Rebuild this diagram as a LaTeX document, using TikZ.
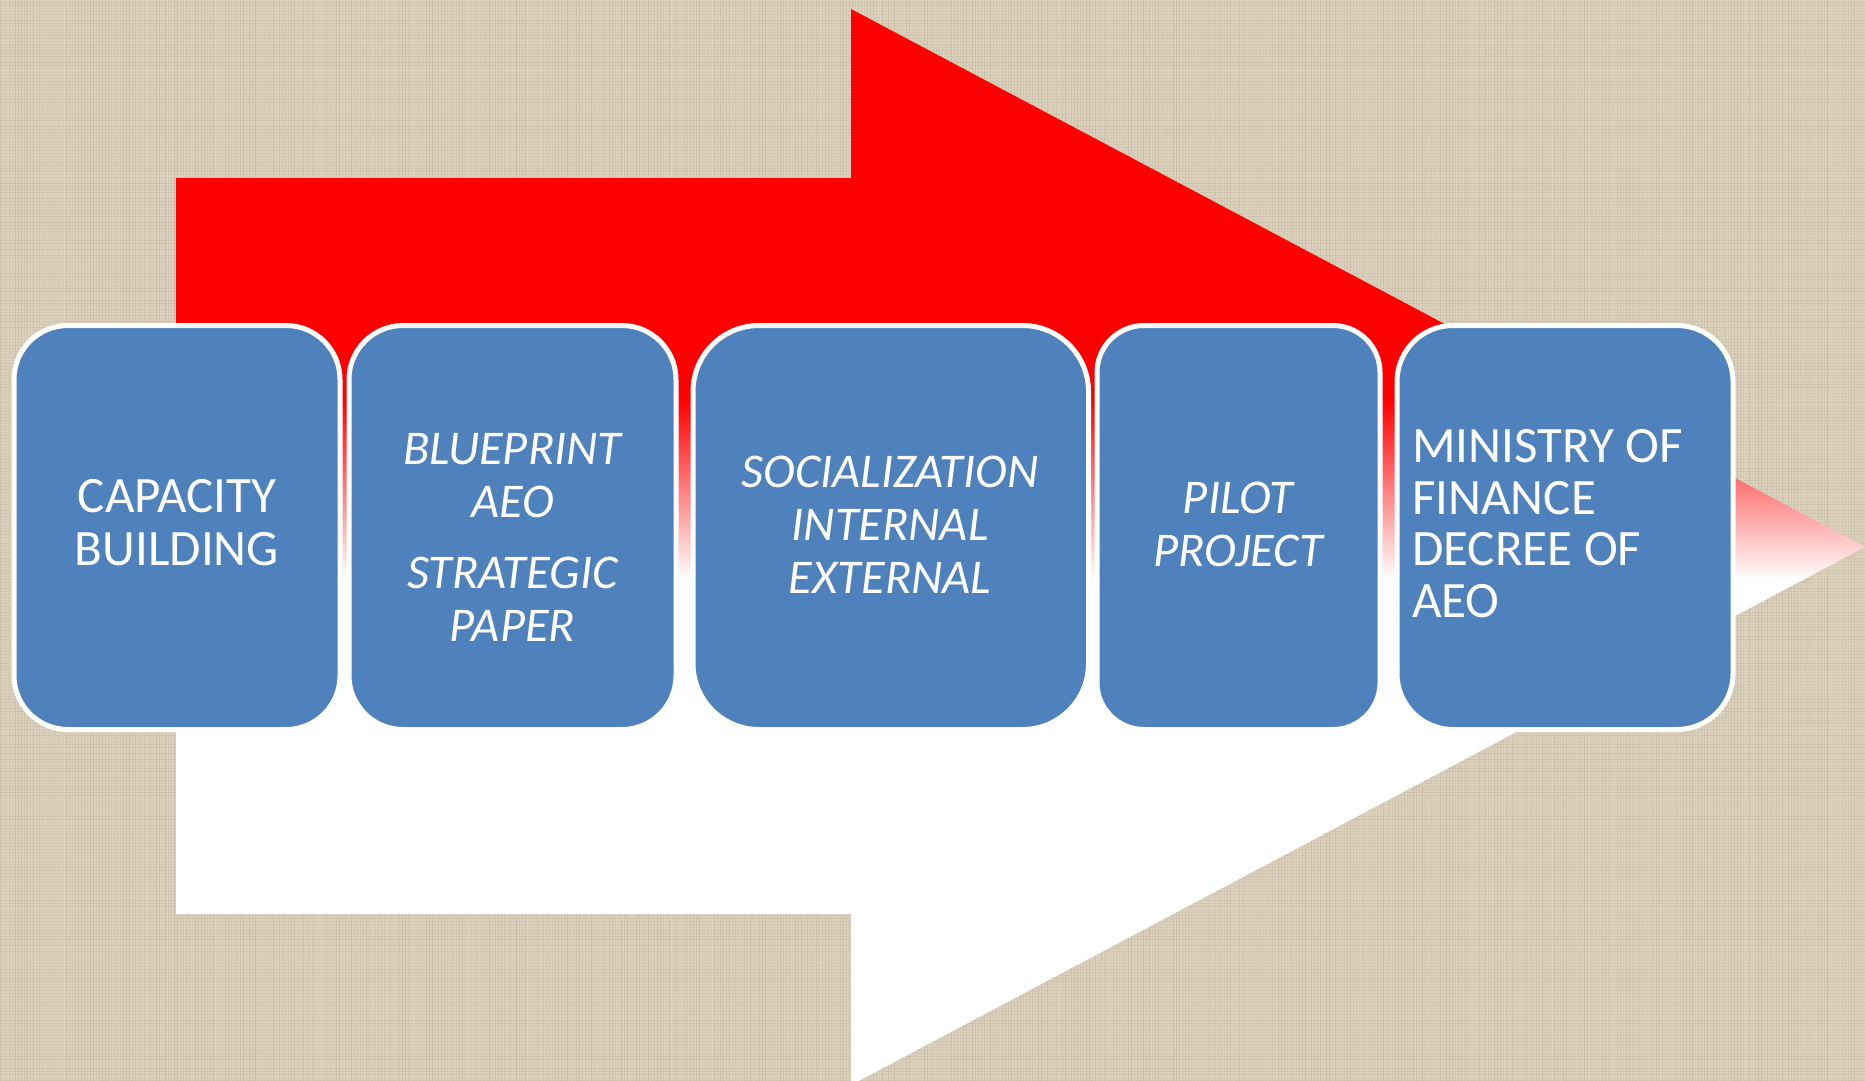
\documentclass[tikz,border=0pt]{standalone}
\usepackage{fontspec}
\setmainfont{Carlito}
\definecolor{bgbeige}{RGB}{219,208,187}
\definecolor{bgthread}{RGB}{170,158,134}
\definecolor{boxblue}{RGB}{79,129,189}
\definecolor{arrowred}{RGB}{255,0,0}
\begin{document}
\begin{tikzpicture}[x=1pt,y=-1pt,
  stagebox/.style={draw=white, line width=5pt, fill=boxblue, inner sep=0pt, outer sep=0pt,
    minimum height=404pt},
  stagetext/.style={text=white, inner sep=0pt, font=\fontsize{51}{53}\selectfont},
  stageitalic/.style={text=white, inner sep=0pt, font=\fontsize{48.5}{53}\selectfont\itshape}]
\useasboundingbox (0,0) rectangle (1865,1081);
\fill[bgbeige] (0,0) rectangle (1865,1081);
% background texture
\pgfmathsetseed{7}
\foreach \i in {0,3,...,1864} {
  \pgfmathsetmacro{\op}{0.05+0.25*rnd}
  \draw[bgthread, line width=1pt, opacity=\op] (\i,0) -- (\i,1081);
}
\foreach \j in {0,3,...,1080} {
  \pgfmathsetmacro{\op}{0.04+0.2*rnd}
  \draw[bgthread, line width=1pt, opacity=\op] (0,\j) -- (1865,\j);
}
% big arrow with red-to-white gradient
\begin{scope}
  \clip (176,178) -- (851,178) -- (851,9) -- (1865,547) -- (851,1085) -- (851,914) -- (176,914) -- cycle;
  \fill[arrowred] (0,0) rectangle (1865,401);
  \shade[top color=arrowred, bottom color=white] (0,400) rectangle (1865,580);
  \fill[white] (0,579) rectangle (1865,1090);
\end{scope}
% stage boxes
\node[stagebox, minimum width=326pt, rounded corners=54pt] (b1) at (177,527.5) {};
\node[stagebox, minimum width=327pt, rounded corners=54pt] (b2) at (512.5,527.5) {};
\node[stagebox, minimum width=395.5pt, rounded corners=66pt] (b3) at (890.75,527.5) {};
\node[stagebox, minimum width=283pt, rounded corners=47pt] (b4) at (1238.5,527.5) {};
\node[stagebox, minimum width=336pt, rounded corners=56pt] (b5) at (1565,527.5) {};
% texts
\node[stagetext, align=center] (t1) at (177,523) {CAPACITY\\BUILDING};
\node[stageitalic, align=center] (t2) at (512.5,537.5) {BLUEPRINT\\AEO\\[18pt]STRATEGIC\\PAPER};
\node[stageitalic, align=center] (t3) at (890,524.5) {SOCIALIZATION\\INTERNAL\\EXTERNAL};
\node[stageitalic, align=center] (t4) at (1238,524.5) {PILOT\\PROJECT};
\node[stagetext, font=\fontsize{51}{51.5}\selectfont, align=left, anchor=west] (t5) at (1412,523.5) {MINISTRY OF\\FINANCE\\DECREE OF\\AEO};
\end{tikzpicture}
\end{document}
